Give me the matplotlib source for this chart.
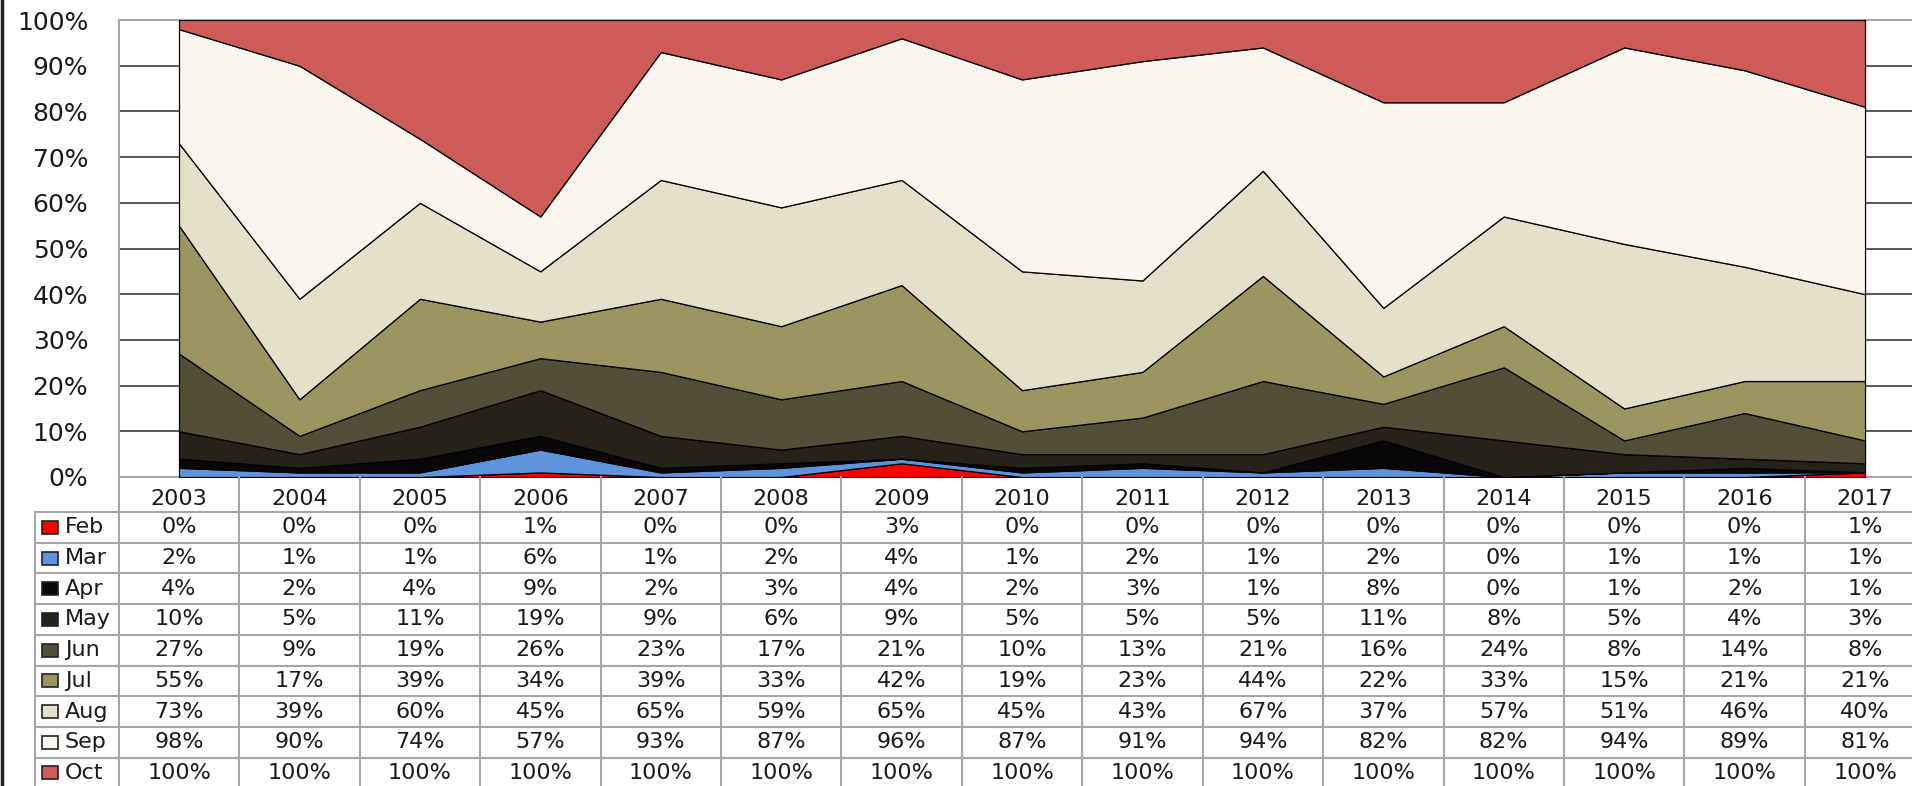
import matplotlib
matplotlib.use("Agg")
import matplotlib.pyplot as plt
from matplotlib.patches import Rectangle
from matplotlib.lines import Line2D
import numpy as np

years = ["2003", "2004", "2005", "2006", "2007", "2008", "2009", "2010",
         "2011", "2012", "2013", "2014", "2015", "2016", "2017"]
months = ["Feb", "Mar", "Apr", "May", "Jun", "Jul", "Aug", "Sep", "Oct"]

# cumulative share (%) by month
feb = [0, 0, 0, 1, 0, 0, 3, 0, 0, 0, 0, 0, 0, 0, 1]
mar = [2, 1, 1, 6, 1, 2, 4, 1, 2, 1, 2, 0, 1, 1, 1]
apr = [4, 2, 4, 9, 2, 3, 4, 2, 3, 1, 8, 0, 1, 2, 1]
may = [10, 5, 11, 19, 9, 6, 9, 5, 5, 5, 11, 8, 5, 4, 3]
jun = [27, 9, 19, 26, 23, 17, 21, 10, 13, 21, 16, 24, 8, 14, 8]
jul = [55, 17, 39, 34, 39, 33, 42, 19, 23, 44, 22, 33, 15, 21, 21]
aug = [73, 39, 60, 45, 65, 59, 65, 45, 43, 67, 37, 57, 51, 46, 40]
sep = [98, 90, 74, 57, 93, 87, 96, 87, 91, 94, 82, 82, 94, 89, 81]
oct_ = [100] * 15

series = [feb, mar, apr, may, jun, jul, aug, sep, oct_]
colors = ["#FF0000", "#5F93DB", "#080806", "#25221A", "#534E37",
          "#9D955F", "#E5E0CA", "#F8F6EE", "#CD5B57"]

plt.rcParams['font.family'] = ['DejaVu Sans']
txt_color = "#1a1a1a"
line_gray = "#a6a6a6"

W, H = 1912, 786
fig = plt.figure(figsize=(W / 100, H / 100), dpi=100)

left_px, step_px = 118.8, 120.43
right_px = left_px + 15 * step_px
top_px, bot_px = 20, 477

ax = fig.add_axes([left_px / W, (H - bot_px) / H, (right_px - left_px) / W, (bot_px - top_px) / H])
x = np.arange(len(years))
ax.set_xlim(-0.5, len(years) - 0.5)
ax.set_ylim(0, 100)

lower = np.zeros(len(years))
for vals, col in zip(series, colors):
    upper = np.array(vals, dtype=float)
    ax.fill_between(x, lower, upper, facecolor=col, edgecolor="black", linewidth=0.9, zorder=3)
    lower = upper

ax.set_yticks(np.arange(0, 101, 10))
ax.set_yticklabels([f"{v}%" for v in range(0, 101, 10)], fontsize=18, color=txt_color)
ax.tick_params(axis="y", length=0, pad=22)
ax.set_xticks([])
ax.grid(axis="y", color="#4a4a4a", linewidth=1.3, zorder=1)
ax.set_axisbelow(True)
for s in ax.spines.values():
    s.set_color(line_gray)
    s.set_linewidth(1.5)

# data table
tb_bottom_px = 790
tax = fig.add_axes([left_px / W, (H - tb_bottom_px) / H, (right_px - left_px) / W, (tb_bottom_px - bot_px) / H])
tax.set_xlim(-0.5, len(years) - 0.5)
tax.set_ylim(tb_bottom_px - bot_px, 0)
tax.axis("off")

header_h = 35
row_h = 30.7
lab_left = -0.5 - (left_px - 35) / step_px
tb_h = tb_bottom_px - bot_px

for i in range(len(years) + 1):
    tax.add_line(Line2D([i - 0.5, i - 0.5], [0, tb_h], color=line_gray, lw=1.5, clip_on=False))
tax.add_line(Line2D([lab_left, lab_left], [header_h, tb_h], color=line_gray, lw=1.5, clip_on=False))
for k in range(len(months) + 1):
    yy = header_h + k * row_h
    tax.add_line(Line2D([lab_left, len(years) - 0.5], [yy, yy], color=line_gray, lw=1.5, clip_on=False))

fs = 16
for i, yr in enumerate(years):
    tax.text(i, 22, yr, ha="center", va="center", fontsize=fs, color=txt_color, clip_on=False)

key_x0 = -0.5 + (42 - left_px) / step_px
key_w = 16 / step_px
text_x = -0.5 + (65 - left_px) / step_px
for k, (m, vals, col) in enumerate(zip(months, series, colors)):
    yc = header_h + (k + 0.5) * row_h
    tax.add_patch(Rectangle((key_x0, yc - 6.5), key_w, 13, facecolor=col,
                            edgecolor="#222222", lw=1.2, clip_on=False))
    tax.text(text_x, yc, m, ha="left", va="center", fontsize=fs, color=txt_color, clip_on=False)
    for i, v in enumerate(vals):
        tax.text(i, yc, f"{v}%", ha="center", va="center", fontsize=fs, color=txt_color, clip_on=False)

fig.add_artist(Line2D([1.5 / W, 1.5 / W], [0, 1], color="#222222", lw=2.5, transform=fig.transFigure))

fig.savefig("out.png", dpi=100)
